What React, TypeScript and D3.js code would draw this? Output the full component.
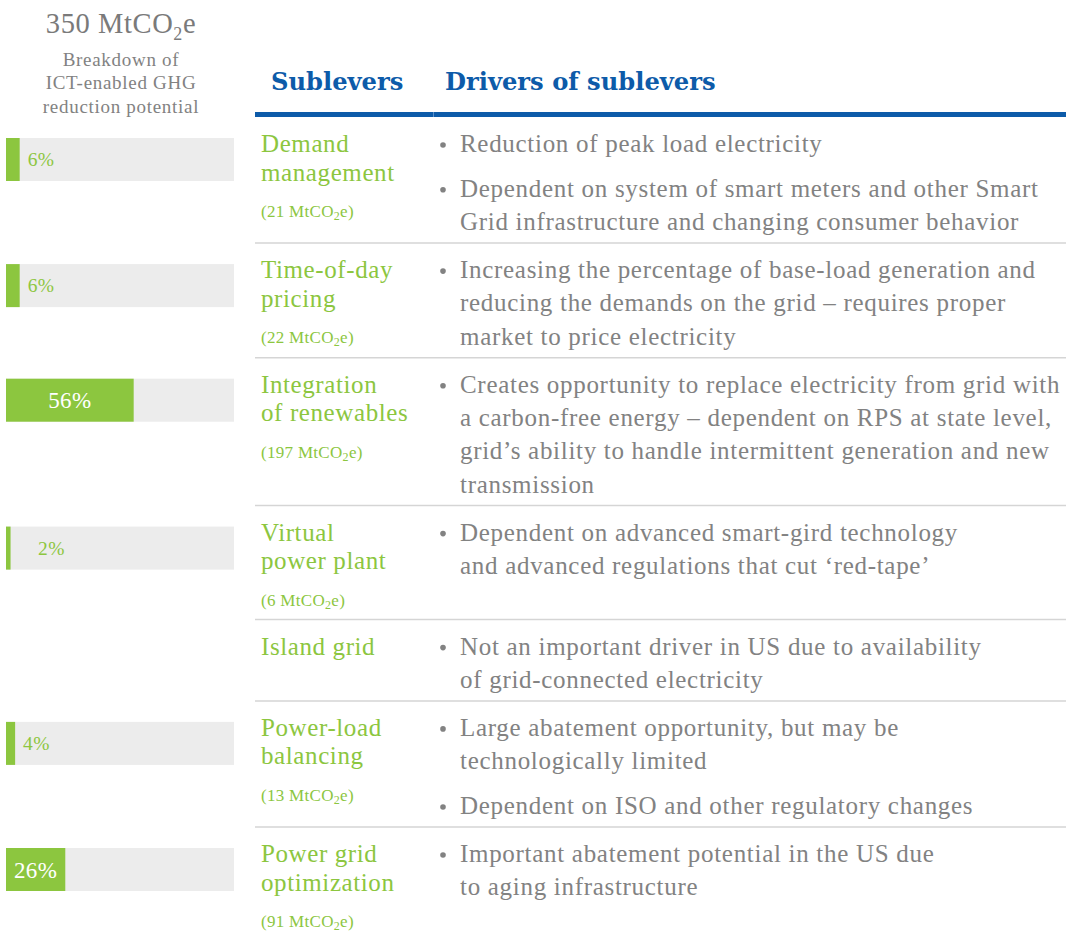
import { useRef, useEffect } from "react";
import * as d3 from "d3";

const TOTAL_MT = 350;
const SUBTITLE = ["Breakdown of", "ICT-enabled GHG", "reduction potential"];
const HEADERS = ["Sublevers", "Drivers of sublevers"];

const SUBLEVERS: string[][] = [
  ["Demand", "management"],
  ["Time-of-day", "pricing"],
  ["Integration", "of renewables"],
  ["Virtual", "power plant"],
  ["Island grid"],
  ["Power-load", "balancing"],
  ["Power grid", "optimization"],
];
const AMOUNTS: (number | null)[] = [21, 22, 197, 6, null, 13, 91];
const SHARES: (number | null)[] = [6, 6, 56, 2, null, 4, 26];

// each driver is a bullet, already broken into lines
const DRIVERS: string[][][] = [
  [
    ["Reduction of peak load electricity"],
    [
      "Dependent on system of smart meters and other Smart",
      "Grid infrastructure and changing consumer behavior",
    ],
  ],
  [
    [
      "Increasing the percentage of base-load generation and",
      "reducing the demands on the grid \u2013 requires proper",
      "market to price electricity",
    ],
  ],
  [
    [
      "Creates opportunity to replace electricity from grid with",
      "a carbon-free energy \u2013 dependent on RPS at state level,",
      "grid\u2019s ability to handle intermittent generation and new",
      "transmission",
    ],
  ],
  [
    [
      "Dependent on advanced smart-gird technology",
      "and advanced regulations that cut \u2018red-tape\u2019",
    ],
  ],
  [
    [
      "Not an important driver in US due to availability",
      "of grid-connected electricity",
    ],
  ],
  [
    ["Large abatement opportunity, but may be", "technologically limited"],
    ["Dependent on ISO and other regulatory changes"],
  ],
  [
    [
      "Important abatement potential in the US due",
      "to aging infrastructure",
    ],
  ],
];

const WIDTH = 1066;
const HEIGHT = 932;
const SERIF = "'Liberation Serif', 'Times New Roman', serif";
const HEAD_FONT = "'DejaVu Serif', Georgia, serif";
const GREEN = "#8cc63f";
const GRAY = "#828282";
const TITLE_GRAY = "#7a7a7a";
const BLUE = "#0d5ba9";
const TRACK = "#ececec";
const RULE = "#d5d5d5";

const TABLE_X = 255;
const NAME_X = 261;
const BULLET_X = 443;
const TEXT_X = 460;
const TABLE_TOP = 117;
const FIRST_BASE = 35;
const LINE_STEP = 33.3;
const BULLET_GAP = 11.5;
const ROW_PAD = 13;
const BAR_X = 6;
const BAR_W = 228;
const BAR_H = 43;
const BAR_OFFSET = 21;

export default function App() {
  const svgRef = useRef<SVGSVGElement>(null);

  useEffect(() => {
    document.body.style.margin = "0";
    const svg = svgRef.current;
    if (!svg) return;
    const root = d3.select(svg);
    root.selectAll("*").remove();

    const x = d3.scaleLinear().domain([0, 100]).range([0, BAR_W]);

    // Title block
    const title = root
      .append("text")
      .attr("x", 121)
      .attr("y", 33)
      .attr("text-anchor", "middle")
      .attr("fill", TITLE_GRAY)
      .attr("font-family", SERIF)
      .attr("font-size", 28.5)
      .attr("letter-spacing", 0.6);
    title.append("tspan").text(`${TOTAL_MT} MtCO`);
    title.append("tspan").attr("dy", 7).attr("font-size", 18).text("2");
    title.append("tspan").attr("dy", -7).text("e");

    SUBTITLE.forEach((line, i) => {
      root
        .append("text")
        .attr("x", 121)
        .attr("y", 66 + i * 23.3)
        .attr("text-anchor", "middle")
        .attr("fill", GRAY)
        .attr("font-family", SERIF)
        .attr("font-size", 19)
        .attr("letter-spacing", 0.7)
        .text(line);
    });

    // Column headers
    [NAME_X + 10, BULLET_X + 2].forEach((hx, i) => {
      root
        .append("text")
        .attr("x", hx)
        .attr("y", 90)
        .attr("fill", BLUE)
        .attr("font-family", HEAD_FONT)
        .attr("font-weight", "bold")
        .attr("font-size", 24.2)
        .text(HEADERS[i]);
    });
    root
      .append("rect")
      .attr("x", TABLE_X)
      .attr("y", 112)
      .attr("width", WIDTH - TABLE_X)
      .attr("height", 5)
      .attr("fill", BLUE);
    root
      .append("rect")
      .attr("x", 433)
      .attr("y", 112)
      .attr("width", 1)
      .attr("height", 5)
      .attr("fill", "#5b8fc8");

    let top = TABLE_TOP;
    SUBLEVERS.forEach((name, r) => {
      const g = root.append("g").attr("transform", `translate(0,${top})`);

      // Sublever name + amount
      name.forEach((line, i) => {
        g.append("text")
          .attr("x", NAME_X)
          .attr("y", FIRST_BASE + i * 28.5)
          .attr("fill", GREEN)
          .attr("font-family", SERIF)
          .attr("font-size", 25)
          .attr("letter-spacing", 0.6)
          .text(line);
      });
      const amount = AMOUNTS[r];
      let nameBottom = FIRST_BASE + (name.length - 1) * 28.5;
      if (amount !== null) {
        const t = g
          .append("text")
          .attr("x", NAME_X)
          .attr("y", 100)
          .attr("fill", GREEN)
          .attr("font-family", SERIF)
          .attr("font-size", 17)
          .attr("letter-spacing", 0.3);
        t.append("tspan").text(`(${amount} MtCO`);
        t.append("tspan").attr("dy", 3).attr("font-size", 12).text("2");
        t.append("tspan").attr("dy", -3).text("e)");
        nameBottom = 101;
      }

      // Drivers
      let base = FIRST_BASE;
      DRIVERS[r].forEach((bullet, b) => {
        if (b > 0) base += LINE_STEP + BULLET_GAP;
        g.append("circle")
          .attr("cx", BULLET_X)
          .attr("cy", base - 7)
          .attr("r", 2.8)
          .attr("fill", GRAY);
        bullet.forEach((line, li) => {
          if (li > 0) base += LINE_STEP;
          g.append("text")
            .attr("x", TEXT_X)
            .attr("y", base)
            .attr("fill", GRAY)
            .attr("font-family", SERIF)
            .attr("font-size", 25)
            .attr("letter-spacing", 0.7)
            .text(line);
        });
      });

      // Share bar
      const share = SHARES[r];
      if (share !== null) {
        g.append("rect")
          .attr("x", BAR_X)
          .attr("y", BAR_OFFSET)
          .attr("width", BAR_W)
          .attr("height", BAR_H)
          .attr("fill", TRACK);
        const w = x(share);
        g.append("rect")
          .attr("x", BAR_X)
          .attr("y", BAR_OFFSET)
          .attr("width", w)
          .attr("height", BAR_H)
          .attr("fill", GREEN);
        const inside = w > 40;
        g.append("text")
          .attr("x", inside ? BAR_X + w / 2 : BAR_X + Math.max(w + 8, w < 8 ? 32 : 0))
          .attr("y", BAR_OFFSET + BAR_H / 2)
          .attr("dy", "0.35em")
          .attr("text-anchor", inside ? "middle" : "start")
          .attr("fill", inside ? "#ffffff" : GREEN)
          .attr("font-family", SERIF)
          .attr("font-size", inside ? 23 : 19.5)
          .attr("letter-spacing", 0.4)
          .text(`${share}%`);
      }

      const rowH = Math.max(base, nameBottom) + ROW_PAD;
      top += rowH;
      if (r < SUBLEVERS.length - 1) {
        root
          .append("line")
          .attr("x1", TABLE_X)
          .attr("x2", WIDTH)
          .attr("y1", top)
          .attr("y2", top)
          .attr("stroke", RULE)
          .attr("stroke-width", 1.5);
      }
    });
  }, []);

  return (
    <svg
      ref={svgRef}
      width={WIDTH}
      height={HEIGHT}
      style={{ display: "block", background: "#ffffff" }}
    />
  );
}
